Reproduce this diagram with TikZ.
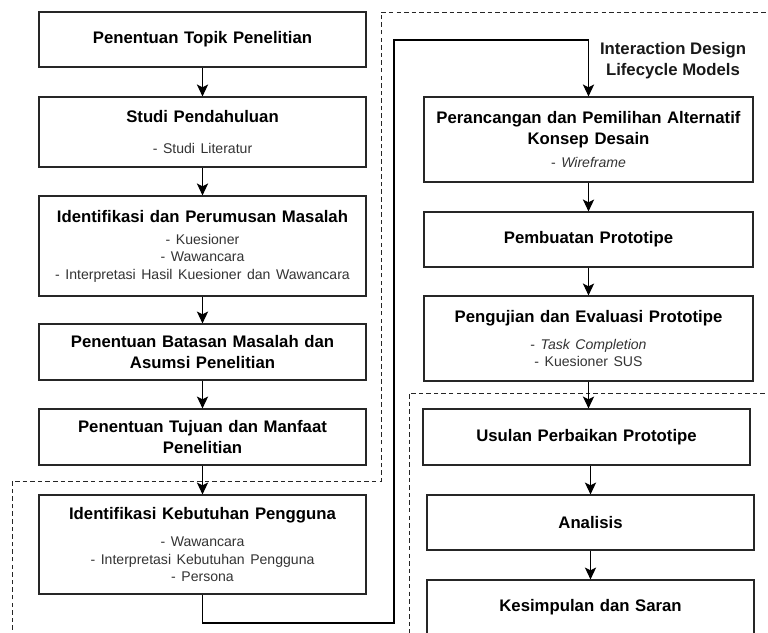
\documentclass[tikz,border=0pt]{standalone}
\usepackage{fontspec}
\setmainfont{Liberation Sans}
\usetikzlibrary{arrows.meta, calc, positioning}
\newcommand{\ttl}{\fontsize{11.9}{14.8}\selectfont\bfseries}
\newcommand{\itm}{\fontsize{10}{12.2}\selectfont\mdseries\color{black!80}}

\begin{document}
\begin{tikzpicture}[x=0.025cm,y=-0.025cm,>={Stealth[length=8.5pt,width=8pt,inset=2pt]},
  box/.style={draw=black!85,thick,inner sep=0pt,text width=8.175cm,align=center,font=\ttl},
  region/.style={draw=black!85,line width=0.6pt,dash pattern=on 3.2pt off 2.2pt}]
\useasboundingbox (0,0) rectangle (768,632);
\node[box,minimum height=1.375cm] at (202.5,39.5) (topik) {Penentuan Topik Penelitian};
\node[box,minimum height=1.75cm] at (202.5,132) (studi) {Studi Pendahuluan\par\vspace{9.8pt}{\itm - Studi Literatur\par}};
\node[box,minimum height=2.5cm] at (202.5,246) (ident) {Identifikasi dan Perumusan Masalah\par\vspace{3.8pt}{\itm - Kuesioner\\- Wawancara\\- Interpretasi Hasil Kuesioner dan Wawancara\par}};
\node[box,minimum height=1.4cm] at (202.5,352) (batasan) {Penentuan Batasan Masalah dan\\Asumsi Penelitian};
\node[box,minimum height=1.4cm] at (202.5,437) (tujuan) {Penentuan Tujuan dan Manfaat\\Penelitian};
\node[box,minimum height=2.475cm] at (202.5,544.5) (kebutuhan) {Identifikasi Kebutuhan Pengguna\par\vspace{7.2pt}{\itm - Wawancara\\- Interpretasi Kebutuhan Pengguna\\- Persona\par}};
\node[box,text width=8.225cm,minimum height=2.125cm] at (588.5,139.5) (rancang) {Perancangan dan Pemilihan Alternatif\\Konsep Desain\par\vspace{4.3pt}{\itm - \textit{Wireframe}\par}};
\node[box,text width=8.225cm,minimum height=1.375cm] at (588.5,239.5) (pembuatan) {Pembuatan Prototipe};
\node[box,text width=8.225cm,minimum height=2.125cm] at (588.5,338.5) (pengujian) {Pengujian dan Evaluasi Prototipe\par\vspace{6.7pt}{\itm - \textit{Task Completion}\\- Kuesioner SUS\par}};
\node[box,minimum height=1.4cm] at (586.5,437) (usulan) {Usulan Perbaikan Prototipe};
\node[box,minimum height=1.375cm] at (590.5,522.5) (analisis) {Analisis};
\node[box,minimum height=1.375cm] at (590.5,607.5) (kesimpulan) {Kesimpulan dan Saran};
\node[font=\ttl,align=center,text=black!90] at (673,60.5) (idlc) {Interaction Design\\Lifecycle Models};
\coordinate (lpa) at (394,623);
\coordinate (lpb) at (394,40);
\draw[region] (12,645) -- (12,481) -- (381,481) -- (381,12) -- (780,12);
\draw[region] (780,393) -- (409,393) -- (409,645);
\draw[->,thick] (topik) -- (studi);
\draw[->,thick] (studi) -- (ident);
\draw[->,thick] (ident) -- (batasan);
\draw[->,thick] (batasan) -- (tujuan);
\draw[->,thick] (tujuan) -- (kebutuhan);
\draw[->,thick] (kebutuhan.south) |- (lpa) -- (lpb) -| (rancang.north);
\draw[->,thick] (rancang) -- (pembuatan);
\draw[->,thick] (pembuatan) -- (pengujian);
\draw[->,thick] (pengujian.south) -- (pengujian.south |- usulan.north);
\draw[->,thick] (usulan.south -| analisis.north) -- (analisis.north);
\draw[->,thick] (analisis) -- (kesimpulan);
\end{tikzpicture}
\end{document}
